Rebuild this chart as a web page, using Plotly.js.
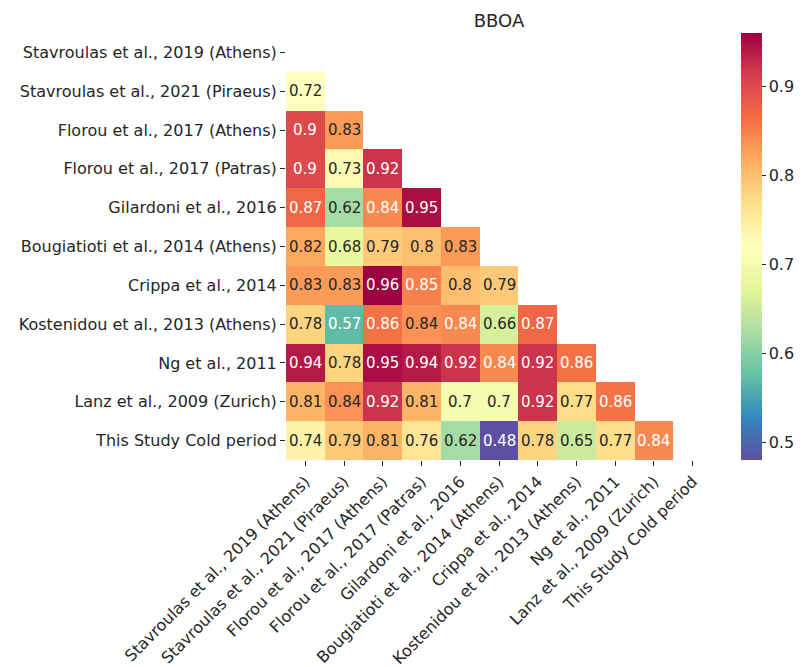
<!DOCTYPE html>
<html>
<head>
<meta charset="utf-8">
<script src="https://cdn.plot.ly/plotly-3.0.1.min.js"></script>
<style>html,body{margin:0;padding:0;background:#fff}#chart{width:802px;height:667px}</style>
</head>
<body>
<div id="chart"></div>
<script>
const categories = [
  "Stavroulas et al., 2019 (Athens)",
  "Stavroulas et al., 2021 (Piraeus)",
  "Florou et al., 2017 (Athens)",
  "Florou et al., 2017 (Patras)",
  "Gilardoni et al., 2016",
  "Bougiatioti et al., 2014 (Athens)",
  "Crippa et al., 2014",
  "Kostenidou et al., 2013 (Athens)",
  "Ng et al., 2011",
  "Lanz et al., 2009 (Zurich)",
  "This Study Cold period"
];
// lower-triangle correlation values (row i has i entries)
const row0 = [];
const row1 = [0.72];
const row2 = [0.90, 0.83];
const row3 = [0.90, 0.73, 0.92];
const row4 = [0.87, 0.62, 0.843, 0.95];
const row5 = [0.82, 0.68, 0.79, 0.80, 0.83];
const row6 = [0.83, 0.83, 0.96, 0.85, 0.80, 0.79];
const row7 = [0.78, 0.57, 0.86, 0.837, 0.843, 0.66, 0.87];
const row8 = [0.94, 0.78, 0.95, 0.94, 0.92, 0.843, 0.92, 0.86];
const row9 = [0.81, 0.837, 0.92, 0.81, 0.70, 0.70, 0.92, 0.77, 0.86];
const row10 = [0.74, 0.79, 0.81, 0.76, 0.62, 0.48, 0.78, 0.65, 0.77, 0.843];
const rows = [row0,row1,row2,row3,row4,row5,row6,row7,row8,row9,row10];
const chartTitle = "BBOA";
const colorTicks = [0.5, 0.6, 0.7, 0.8, 0.9];

const spectralR = ["#5e4fa2","#3288bd","#66c2a5","#abdda4","#e6f598","#ffffbf","#fee08b","#fdae61","#f46d43","#d53e4f","#9e0142"];
const colorscale = spectralR.map((c,i)=>[i/(spectralR.length-1), c]);

const n = categories.length;
const z = rows.map(r => { const a = r.slice(); while (a.length < n) a.push(null); return a; });

const FS = 16;
const annotations = [];
rows.forEach((r,i) => r.forEach((v,j) => {
  const txt = String(parseFloat(v.toFixed(2)));
  const white = (v >= 0.84 || v <= 0.58);
  annotations.push({x: categories[j], y: categories[i], text: txt, showarrow: false,
    xref:'x', yref:'y', font:{family:'DejaVu Sans', size:15, color: white ? '#ffffff' : '#262626'}});
}));

const trace = {
  type: 'heatmap', x: categories, y: categories, z: z,
  colorscale: colorscale, zmin: 0.48, zmax: 0.96,
  hoverongaps: false,
  colorbar: {x: 1.068, xanchor: 'left', y: 0.5, yanchor:'middle', len: 1.0, lenmode:'fraction', ypad: 0, xpad: 0,
    thickness: 21, outlinewidth: 0, ticks: 'outside', ticklen: 4, tickwidth: 1, tickcolor:'#262626',
    tickvals: colorTicks, ticktext: colorTicks.map(String),
    tickfont: {family:'DejaVu Sans', size: FS, color:'#262626'}}
};

const layout = {
  width: 802, height: 667,
  margin: {l: 286, r: 90, t: 33, b: 207, autoexpand: false},
  paper_bgcolor: '#fff', plot_bgcolor: '#fff',
  title: {text: chartTitle, x: 0.5, xref: 'paper', xanchor:'center', y: 1, yref:'paper', yanchor:'bottom', pad:{b:6},
    font: {family:'DejaVu Sans', size: 18, color:'#262626'}},
  xaxis: {type:'category', tickangle: -45, ticks:'outside', ticklen: 5, tickcolor:'#262626', showgrid:false, zeroline:false,
    automargin:false,
    showline:false, tickfont:{family:'DejaVu Sans', size: FS, color:'#262626'}, categoryorder:'array', categoryarray: categories},
  yaxis: {type:'category', autorange:'reversed', ticks:'outside', ticklen: 5, tickcolor:'#262626', showgrid:false, zeroline:false,
    automargin:false,
    showline:false, tickfont:{family:'DejaVu Sans', size: FS, color:'#262626'}, categoryorder:'array', categoryarray: categories},
  annotations: annotations
};

Plotly.newPlot('chart', [trace], layout, {displayModeBar:false, staticPlot:true});
</script>
</body>
</html>
